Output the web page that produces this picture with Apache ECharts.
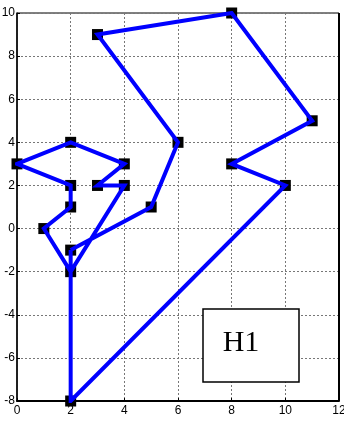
<!DOCTYPE html>
<html>
<head>
<meta charset="utf-8">
<script src="https://cdn.jsdelivr.net/npm/echarts@6/dist/echarts.min.js"></script>
<style>
  html, body { margin: 0; padding: 0; background: #fff; }
  #chart { width: 344px; height: 422px; }
</style>
</head>
<body>
<div id="chart"></div>
<script>
// Closed route through the H1 vertices (x and y listed in visiting order)
const routeX = [2, 5, 6, 3, 8, 11, 8, 10, 2, 2, 4, 3, 4, 2, 0, 2, 2, 1, 2, 2];
const routeY = [-1, 1, 4, 9, 10, 5, 3, 2, -8, -2, 2, 2, 3, 4, 3, 2, 1, 0, -2, -1];

// Distinct vertices marked with squares
const vertexX = [0, 1, 2, 2, 2, 2, 2, 2, 3, 3, 4, 4, 5, 6, 8, 8, 10, 11];
const vertexY = [3, 0, -8, -2, -1, 1, 2, 4, 2, 9, 2, 3, 1, 4, 3, 10, 2, 5];

// Axis tick values
const xTicks = [0, 2, 4, 6, 8, 10, 12];
const yTicks = [-8, -6, -4, -2, 0, 2, 4, 6, 8, 10];

const labelText = 'H1';

const route = routeX.map((x, i) => [x, routeY[i]]);
const vertices = vertexX.map((x, i) => [x, vertexY[i]]);

const chart = echarts.init(document.getElementById('chart'), null, { renderer: 'canvas' });

const tickFont = {
  color: '#000',
  fontFamily: '"Liberation Sans Narrow", "Arial Narrow", "Liberation Sans", sans-serif',
  fontSize: 12
};

const gridLine = { show: true, lineStyle: { color: '#777', type: [2, 2], width: 1 } };

chart.setOption({
  animation: false,
  grid: {
    left: 17, right: 5, top: 13, bottom: 21,
    outerBoundsMode: 'none', containLabel: false,
    show: true, borderColor: '#000', borderWidth: 1
  },
  xAxis: {
    type: 'value',
    min: xTicks[0],
    max: xTicks[xTicks.length - 1],
    interval: 2,
    axisLine: { show: true, onZero: false, lineStyle: { color: '#000', width: 2 } },
    axisTick: { show: true, inside: true, length: 3, lineStyle: { color: '#000' } },
    axisLabel: Object.assign({ margin: 4, hideOverlap: false }, tickFont),
    splitLine: gridLine
  },
  yAxis: {
    type: 'value',
    min: yTicks[0],
    max: yTicks[yTicks.length - 1],
    interval: 2,
    axisLine: { show: true, onZero: false, lineStyle: { color: '#000', width: 1.5 } },
    axisTick: { show: true, inside: true, length: 3, lineStyle: { color: '#000' } },
    axisLabel: Object.assign({ margin: 2, hideOverlap: false }, tickFont),
    splitLine: gridLine
  },
  graphic: [
    {
      type: 'line',
      shape: { x1: 339, y1: 13, x2: 339, y2: 401 },
      style: { stroke: '#000', lineWidth: 2 },
      z: 10
    },
    {
      type: 'rect',
      shape: { x: 203, y: 309, width: 96, height: 73 },
      style: { fill: '#fff', stroke: '#000', lineWidth: 1.5 },
      z: 20
    },
    {
      type: 'text',
      x: 241, y: 343,
      style: {
        text: labelText,
        fill: '#000',
        font: '30px "Liberation Serif", "Times New Roman", serif',
        align: 'center',
        verticalAlign: 'middle'
      },
      z: 21
    }
  ],
  series: [
    {
      type: 'scatter',
      data: vertices,
      symbol: 'rect',
      symbolSize: 11,
      itemStyle: { color: '#000', opacity: 1 },
      z: 2
    },
    {
      type: 'line',
      data: route,
      showSymbol: false,
      symbol: 'none',
      lineStyle: { color: '#0000ff', width: 4, join: 'miter' },
      z: 3
    }
  ]
});
</script>
</body>
</html>
